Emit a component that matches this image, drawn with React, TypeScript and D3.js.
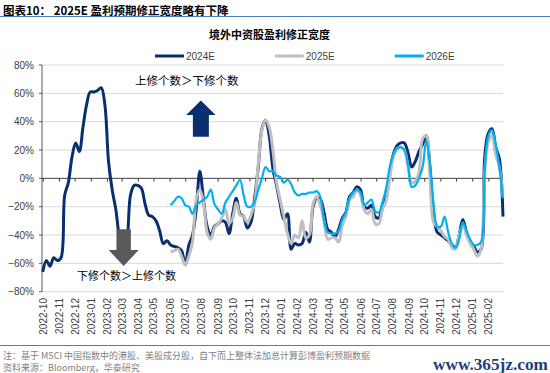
import React from 'react'
import * as d3 from 'd3'

// weekly observations, first one on 2022-09-30
const startWeek = new Date(2022, 8, 30)
const firstForwardWeek = 35 // 2025E / 2026E start here

const series2024E = [
  -66, -58, -62, -56, -58, -56, -12, -3, 15, 25,
  19, 36, 52, 61, 61, 62, 64, 52, 12, -8,
  -22, -42, -52, -45, -12, -5, -5, -7, -18, -26,
  -27, -30, -37, -46, -44, -47, -48, -49, -51, -61,
  -47, -40, -22, 5, -15, -34, -40, -34, -32, -30,
  -31, -39, -25, -14, -25, -27, -35, -31, -14, 8,
  35, 41, 30, 7, -5, -18, -29, -25, -50, -46,
  -47, -46, -38, -45, -20, -14, -15, -24, -36, -38,
  -41, -36, -28, -24, -13, -10, -6, -8, -20, -21,
  -19, -27, -28, -19, -13, 4, 17, 23, 25, 25,
  18, 8, 12, 19, 24, 30, 8, -25, -38, -40,
  -42, -44, -47, -49, -40, -29, -38, -45, -48, -52,
  -50, 15, 32, 35, 22, 14, -27,
]

const series2025E = [
  -52, -51, -50, -55, -61,
  -55, -45, -15, -8, -17, -38, -43, -35, -32, -28,
  -22, -32, -28, -17, -26, -27, -31, -26, -17, 10,
  34, 41, 36, 20, -3, -15, -27, -39, -46, -40,
  -42, -30, -42, -40, -18, -13, -19, -30, -43, -42,
  -42, -45, -33, -27, -15, -13, -8, -12, -22, -25,
  -22, -32, -32, -22, -16, 0, 15, 21, 22, 20,
  8, -3, -2, 4, 28, 30, 1, -31, -34, -37,
  -41, -43, -49, -50, -40, -33, -40, -46, -50, -55,
  -50, 5, 26, 30, 17, 8, -13,
]

const series2026E = [
  -19, -16, -13, -14, -19,
  -20, -25, -19, -17, -15, -13, -8, -18, -22, -25,
  -17, -13, -9, -5, -1, -12, -20, -20, -17, -8,
  0, 8, 5, 5, 2, 1, -3, -1, -4, -10,
  -12, -11, -11, -10, -10, -9, -13, -30, -38, -39,
  -39, -37, -29, -24, -14, -10, -8, -10, -19, -17,
  -15, -23, -24, -17, -7, 8, 17, 21, 22, 20,
  10, -6, -5, 0, 8, 27, 10, -18, -34, -34,
  -27, -38, -46, -49, -43, -31, -37, -43, -47, -47,
  -45, 5, 30, 34, 24, 8, -14,
]

const seriesNames = ['2024E', '2025E', '2026E']
const seriesColors = ['#0a2f6e', '#bfbfbf', '#00b0f0']
const seriesWidths = [3, 3, 2.2]

const yTicks = [0.8, 0.6, 0.4, 0.2, 0, -0.2, -0.4, -0.6, -0.8]

const sans = '"Liberation Sans", Arial, sans-serif'
const cjk = '"Noto Sans CJK SC", sans-serif'

export default function App() {
  const width = 550
  const height = 373

  const x = d3.scaleTime()
    .domain([new Date(2022, 9, 1), new Date(2025, 2, 1)])
    .range([43.3, 503.5])
  const y = d3.scaleLinear().domain([-0.8, 0.8]).range([291.7, 65])

  const weekDate = (i: number) => d3.timeDay.offset(startWeek, i * 7)
  const months = d3.timeMonth.range(new Date(2022, 9, 1), new Date(2025, 2, 1))
  const fmtMonth = d3.timeFormat('%Y-%m')
  const fmtPct = d3.format('.0%')

  const toPoints = (vals: number[], offset: number) =>
    vals.map((v, i) => ({ date: weekDate(i + offset), value: v / 100 }))

  const allSeries = [
    toPoints(series2024E, 0),
    toPoints(series2025E, firstForwardWeek),
    toPoints(series2026E, firstForwardWeek),
  ]

  const line = d3.line<{ date: Date; value: number }>()
    .x(d => x(d.date))
    .y(d => y(d.value))
    .curve(d3.curveCatmullRom.alpha(0.5))

  const plotLeft = 42
  const plotRight = 503

  // annotation arrows, anchored in data space
  const upX = x(new Date(2023, 6, 30))
  const downX = x(new Date(2023, 2, 4))
  const upArrow = [
    [upX, y(0.55)], [upX + 14.7, y(0.447)], [upX + 8, y(0.447)], [upX + 8, y(0.294)],
    [upX - 8, y(0.294)], [upX - 8, y(0.447)], [upX - 14.7, y(0.447)],
  ]
  const downArrow = [
    [downX - 7.2, y(-0.36)], [downX + 7.2, y(-0.36)], [downX + 7.2, y(-0.506)], [downX + 15, y(-0.506)],
    [downX, y(-0.619)], [downX - 15, y(-0.506)], [downX - 7.2, y(-0.506)],
  ]
  const poly = (pts: number[][]) => 'M' + pts.map(p => p.join(',')).join('L') + 'Z'

  return (
    <svg width={width} height={height} style={{ position: 'absolute', left: 0, top: 0, background: '#fff' }}>
      {/* report header */}
      <text x={3} y={14.6} fontFamily={cjk} fontWeight="bold" fontSize={11.5} fill="#000">
        图表10：  2025E 盈利预期修正宽度略有下降
      </text>
      <line x1={0} x2={550} y1={16.5} y2={16.5} stroke="#4a7ebb" strokeWidth={1} />

      <text x={269.5} y={38.5} textAnchor="middle" fontFamily={cjk} fontWeight="bold" fontSize={11} fill="#000">
        境外中资股盈利修正宽度
      </text>

      {/* legend */}
      {seriesNames.map((name, i) => {
        const lx = [155, 274.8, 394.7][i]
        return (
          <g key={name}>
            <line x1={lx} x2={lx + 29} y1={56} y2={56} stroke={seriesColors[i]} strokeWidth={3} />
            <text x={lx + 31} y={59.5} fontFamily={sans} fontSize={10} fill="#404040">{name}</text>
          </g>
        )
      })}

      {/* gridlines and y axis */}
      {yTicks.map(t => (
        <g key={t}>
          {t !== 0 && (
            <line x1={plotLeft} x2={plotRight} y1={y(t)} y2={y(t)} stroke="#d9d9d9" strokeWidth={1} />
          )}
          <line x1={plotLeft - 3} x2={plotLeft} y1={y(t)} y2={y(t)} stroke="#595959" />
          <text x={34} y={y(t) + 3.5} textAnchor="end" fontFamily={sans} fontSize={10} fill="#404040">
            {fmtPct(t)}
          </text>
        </g>
      ))}
      <line x1={plotLeft} x2={plotLeft} y1={y(0.8)} y2={y(-0.8)} stroke="#595959" />

      {/* x axis along zero */}
      <line x1={plotLeft} x2={plotRight} y1={y(0)} y2={y(0)} stroke="#404040" />
      {months.map(m => (
        <g key={m.getTime()}>
          <line x1={x(m)} x2={x(m)} y1={y(0)} y2={y(0) + 3.3} stroke="#404040" />
          <text
            transform={`translate(${x(m)},298) rotate(-90)`}
            textAnchor="end"
            dy="0.35em"
            fontFamily={sans}
            fontSize={10}
            fill="#404040"
          >
            {fmtMonth(m)}
          </text>
        </g>
      ))}

      {/* series */}
      {allSeries.map((pts, i) => (
        <path
          key={seriesNames[i]}
          d={line(pts) || ''}
          fill="none"
          stroke={seriesColors[i]}
          strokeWidth={seriesWidths[i]}
          strokeLinejoin="round"
        />
      ))}

      {/* annotations */}
      <path d={poly(upArrow)} fill="#0a2f6e" />
      <path d={poly(downArrow)} fill="#595959" />
      <text x={135} y={85} fontFamily={cjk} fontSize={11.5} fill="#000">上修个数＞下修个数</text>
      <text x={77} y={280} fontFamily={cjk} fontSize={11} fill="#000">下修个数＞上修个数</text>

      {/* footer */}
      <line x1={0} x2={550} y1={345.5} y2={345.5} stroke="#4a7ebb" strokeWidth={1} />
      <text x={3} y={358.5} fontFamily={cjk} fontSize={9} fill="#7f7f7f">
        注：基于 MSCI 中国指数中的港股、美股成分股，自下而上整体法加总计算彭博盈利预期数据
      </text>
      <text x={3} y={371} fontFamily={cjk} fontSize={9} fill="#7f7f7f">
        资料来源：Bloomberg，华泰研究
      </text>
      <text
        x={433}
        y={369.5}
        fontFamily='"Liberation Serif", "DejaVu Serif", serif'
        fontWeight="bold"
        fontSize={17}
        fill="#1f3f7a"
        textLength={115}
        lengthAdjust="spacingAndGlyphs"
      >
        www.365jz.com
      </text>
    </svg>
  )
}
